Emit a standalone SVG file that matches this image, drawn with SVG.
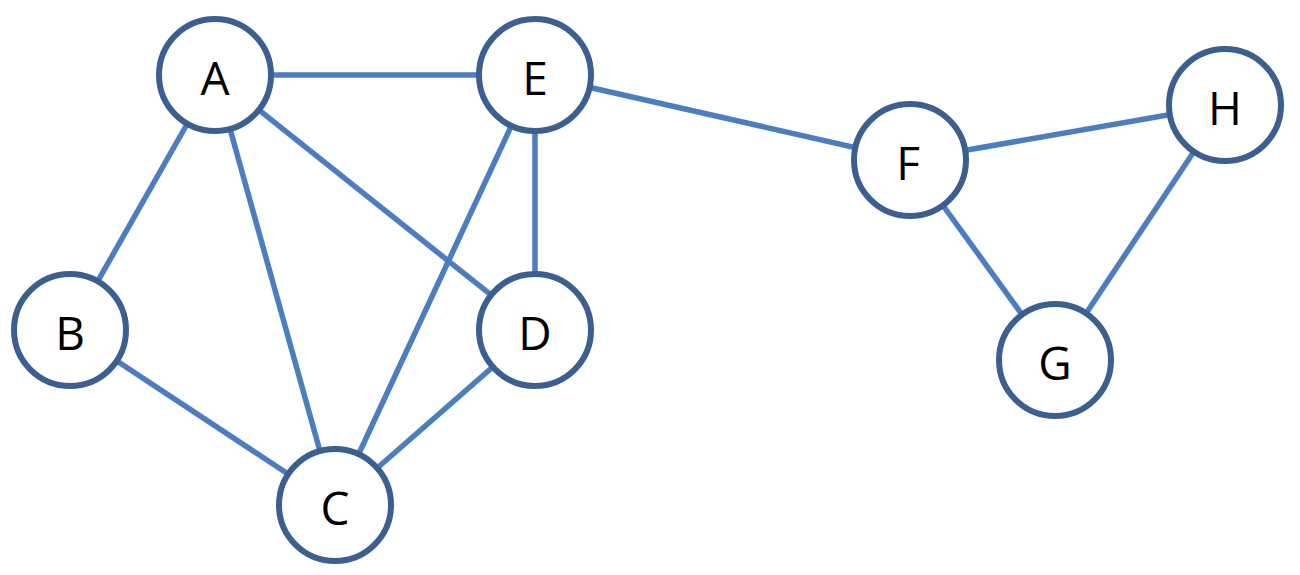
<svg xmlns="http://www.w3.org/2000/svg" width="1300" height="575" viewBox="0 0 1300 575">
<style>
.e{stroke:#4a7ebf;stroke-width:5.5;fill:none}
.n circle{fill:#fff;stroke:#3b5f8e;stroke-width:6}
.n text{font-family:"Open Sans","Liberation Sans",sans-serif;font-size:46px;fill:#000;text-anchor:middle;dominant-baseline:central}
</style>
<rect width="1300" height="575" fill="#fff"/>
<g id="connectors">
<line class="e" x1="215" y1="75" x2="535" y2="75"/>
<line class="e" x1="215" y1="75" x2="70" y2="330"/>
<line class="e" x1="215" y1="75" x2="335" y2="505"/>
<line class="e" x1="215" y1="75" x2="535" y2="330"/>
<line class="e" x1="535" y1="75" x2="335" y2="505"/>
<line class="e" x1="535" y1="75" x2="535" y2="330"/>
<line class="e" x1="535" y1="75" x2="910" y2="160"/>
<line class="e" x1="70" y1="330" x2="335" y2="505"/>
<line class="e" x1="535" y1="330" x2="335" y2="505"/>
<line class="e" x1="910" y1="160" x2="1225" y2="105"/>
<line class="e" x1="910" y1="160" x2="1055" y2="360"/>
<line class="e" x1="1225" y1="105" x2="1055" y2="360"/>
</g>
<g id="A" class="n"><circle cx="215" cy="75" r="56"/><text x="215" y="77">A</text></g>
<g id="E" class="n"><circle cx="535" cy="75" r="56"/><text x="535" y="77">E</text></g>
<g id="B" class="n"><circle cx="70" cy="330" r="56"/><text x="70" y="332">B</text></g>
<g id="D" class="n"><circle cx="535" cy="330" r="56"/><text x="535" y="332">D</text></g>
<g id="C" class="n"><circle cx="335" cy="505" r="56"/><text x="335" y="507">C</text></g>
<g id="F" class="n"><circle cx="910" cy="160" r="56"/><text x="908" y="162">F</text></g>
<g id="H" class="n"><circle cx="1225" cy="105" r="56"/><text x="1225" y="107">H</text></g>
<g id="G" class="n"><circle cx="1055" cy="360" r="56"/><text x="1055" y="362">G</text></g>
</svg>
